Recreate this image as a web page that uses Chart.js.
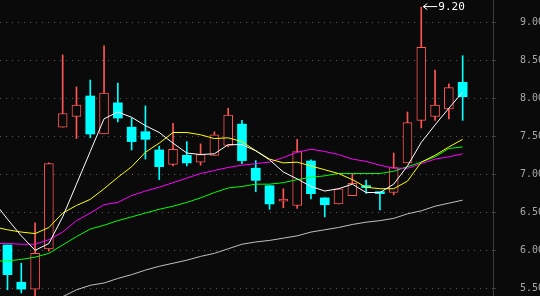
<!DOCTYPE html>
<html>
<head>
<meta charset="utf-8">
<script src="https://cdn.jsdelivr.net/npm/chart.js@4"></script>
<style>
  html, body { margin: 0; padding: 0; background: #0a0a0a; }
  #wrap { width: 540px; height: 296px; }
</style>
</head>
<body>
<div id="wrap"><canvas id="kline" width="540" height="296"></canvas></div>
<script>
// daily candles, left to right
var open  = [6.07, 5.58, 5.49, 6.02, 7.62, 7.76, 8.03, 7.53, 7.94, 7.62, 7.56, 7.32, 7.13, 7.25, 7.16, 7.25, 7.38,
             7.66, 7.08, 6.85, 6.645, 6.59, 7.175, 6.69, 6.61, 6.72, 6.833, 6.754, 6.76, 7.15, 7.71, 7.76, 7.86, 8.21];
var close = [5.68, 5.49, 5.96, 7.14, 7.80, 7.91, 7.53, 8.07, 7.74, 7.43, 7.46, 7.10, 7.33, 7.15, 7.26, 7.52, 7.78,
             7.18, 6.92, 6.61, 6.675, 7.30, 6.745, 6.60, 6.81, 6.88, 6.825, 6.745, 7.09, 7.68, 8.67, 7.91, 8.14, 8.02];
var high  = [6.07, 5.83, 6.36, 7.15, 8.57, 8.15, 8.24, 8.69, 8.20, 7.74, 7.90, 7.37, 7.67, 7.43, 7.40, 7.56, 7.87,
             7.71, 7.18, 6.85, 6.81, 7.46, 7.19, 6.69, 6.81, 7.01, 6.925, 6.755, 7.28, 7.82, 9.20, 8.37, 8.19, 8.56];
var low   = [5.48, 5.44, 5.38, 5.99, 7.62, 7.47, 7.48, 7.53, 7.69, 7.32, 7.20, 6.93, 7.11, 7.11, 7.12, 7.25, 7.36,
             7.14, 6.77, 6.54, 6.56, 6.55, 6.675, 6.44, 6.61, 6.72, 6.75, 6.53, 6.73, 7.15, 7.61, 7.71, 7.73, 7.71];

// moving averages; first value is the day before the first visible candle
var ma5  = [6.64, 6.41, 6.19, 6.00, 6.09, 6.44, 6.87, 7.30, 7.73, 7.82, 7.75, 7.64, 7.55, 7.41, 7.28, 7.26, 7.27, 7.39,
            7.39, 7.31, 7.19, 7.03, 6.94, 6.84, 6.78, 6.81, 6.87, 6.76, 6.76, 6.87, 7.11, 7.42, 7.65, 7.87, 8.08];
var ma10 = [6.31, 6.27, 6.24, 6.22, 6.30, 6.49, 6.59, 6.67, 6.81, 6.96, 7.10, 7.29, 7.41, 7.55, 7.55, 7.52, 7.47, 7.48,
            7.43, 7.31, 7.20, 7.15, 7.16, 7.11, 7.06, 7.01, 6.93, 6.83, 6.81, 6.81, 6.91, 7.16, 7.25, 7.36, 7.46];
var ma20 = [6.09, 6.09, 6.08, 6.08, 6.14, 6.24, 6.39, 6.49, 6.60, 6.63, 6.72, 6.78, 6.83, 6.89, 6.95, 7.01, 7.05, 7.09,
            7.12, 7.14, 7.16, 7.22, 7.29, 7.33, 7.30, 7.26, 7.20, 7.17, 7.12, 7.08, 7.08, 7.14, 7.20, 7.23, 7.27];
var ma30 = [5.86, 5.86, 5.88, 5.91, 5.96, 6.07, 6.18, 6.28, 6.33, 6.39, 6.44, 6.49, 6.54, 6.58, 6.63, 6.69, 6.76, 6.82,
            6.84, 6.87, 6.87, 6.89, 6.93, 6.96, 6.98, 7.01, 7.01, 7.01, 7.01, 7.04, 7.10, 7.16, 7.23, 7.34, 7.36];
var ma60 = [null, null, null, null, 5.31, 5.39, 5.48, 5.54, 5.57, 5.63, 5.68, 5.74, 5.79, 5.83, 5.87, 5.92, 5.96, 6.02,
            6.08, 6.11, 6.13, 6.16, 6.19, 6.24, 6.27, 6.30, 6.34, 6.37, 6.39, 6.42, 6.48, 6.52, 6.58, 6.62, 6.66];

var yTicks = [5.5, 6.0, 6.5, 7.0, 7.5, 8.0, 8.5, 9.0];

var UP = '#ff5555', DOWN = '#00ffff', BG = '#0a0a0a';

function isUp(i) { return close[i] >= open[i]; }

var wicks = [], bodies = [], upDown = [];
for (var i = 0; i < open.length; i++) {
	wicks.push({ x : i, y : [ low[i], high[i] ] });
	bodies.push({ x : i, y : [ open[i], close[i] ] });
	upDown.push(isUp(i));
}

function maSet(values, color) {
	return {
		type : 'line',
		data : values.map(function(v, k) { return { x : k - 1, y : v }; }),
		borderColor : color,
		borderWidth : 1,
		pointRadius : 0,
		tension : 0,
		order : 1
	};
}

// arrow + value at the highest high
var peakMark = {
	id : 'peakMark',
	afterDatasetsDraw : function(chart) {
		var idx = 0;
		for (var i = 1; i < high.length; i++) if (high[i] > high[idx]) idx = i;
		var x = chart.scales.x.getPixelForValue(idx);
		var y = chart.scales.y.getPixelForValue(high[idx]) - 1;
		var ctx = chart.ctx;
		ctx.save();
		ctx.strokeStyle = '#ffffff';
		ctx.lineWidth = 1;
		ctx.beginPath();
		ctx.moveTo(x + 2, y + 0.5);
		ctx.lineTo(x + 16, y + 0.5);
		ctx.moveTo(x + 6, y - 2.5);
		ctx.lineTo(x + 2, y + 0.5);
		ctx.lineTo(x + 6, y + 3.5);
		ctx.stroke();
		ctx.fillStyle = '#ffffff';
		ctx.font = '11px "DejaVu Sans Mono"';
		ctx.textBaseline = 'middle';
		ctx.fillText(high[idx].toFixed(2), x + 17, y + 1);
		ctx.restore();
	}
};

var ctxK = document.getElementById('kline').getContext('2d');
var kChart = new Chart(ctxK, {
	type : 'bar',
	data : {
		datasets : [
			maSet(ma5, '#ffffff'),
			maSet(ma10, '#ffff00'),
			maSet(ma20, '#ff00ff'),
			maSet(ma30, '#00ff00'),
			maSet(ma60, '#c0c0c0'),
			{
				data : bodies,
				grouped : false,
				barThickness : 9,
				minBarLength : 2,
				backgroundColor : upDown.map(function(u) { return u ? BG : DOWN; }),
				borderColor : upDown.map(function(u) { return u ? UP : DOWN; }),
				borderWidth : upDown.map(function(u) { return u ? 1 : 0; }),
				borderSkipped : false,
				order : 2
			},
			{
				data : wicks,
				grouped : false,
				barThickness : 1,
				backgroundColor : upDown.map(function(u) { return u ? UP : DOWN; }),
				borderWidth : 0,
				order : 3
			}
		]
	},
	options : {
		responsive : false,
		animation : false,
		layout : { padding : 0 },
		plugins : { legend : { display : false }, tooltip : { enabled : false } },
		scales : {
			x : {
				type : 'linear',
				min : -0.544,
				max : 35.2,
				offset : false,
				display : false
			},
			y : {
				position : 'right',
				min : 5.399,
				max : 9.293,
				afterBuildTicks : function(scale) {
					scale.ticks = yTicks.map(function(v) { return { value : v }; });
				},
				afterFit : function(scale) {
					// full height plot, fixed axis strip on the right
					scale.width = 47;
					scale.paddingTop = 0;
					scale.paddingBottom = 0;
				},
				grid : {
					color : '#5a5a5a',
					lineWidth : 1,
					drawTicks : true,
					tickLength : 3,
					tickColor : '#3c3c3c',
					tickBorderDash : []
				},
				border : { display : true, color : '#3c3c3c', width : 1, dash : [ 1, 5 ] },
				ticks : {
					color : '#a8a8a8',
					padding : 24,
					font : { family : 'DejaVu Sans Mono', size : 10 },
					callback : function(v) { return Number(v).toFixed(2); }
				}
			}
		}
	},
	plugins : [ peakMark ]
});
</script>
</body>
</html>
